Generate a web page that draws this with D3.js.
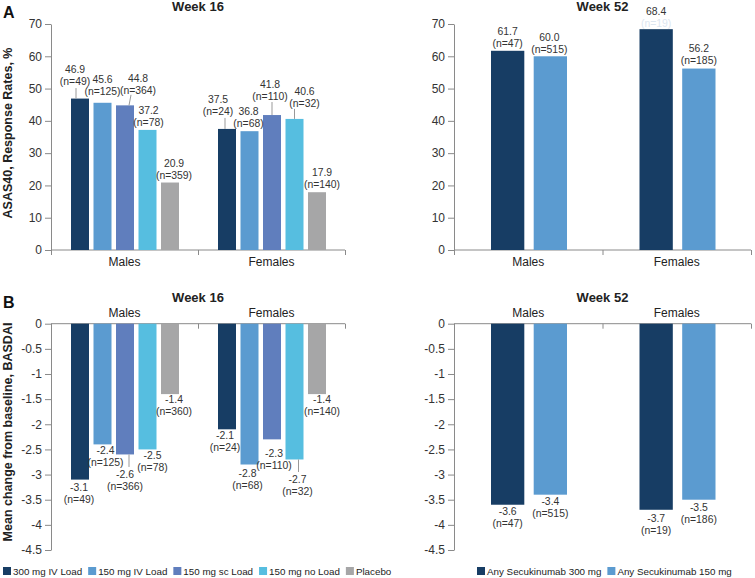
<!DOCTYPE html>
<html><head><meta charset="utf-8">
<script src="https://cdn.jsdelivr.net/npm/d3@7"></script>
<style>body{margin:0;background:#fff} svg{display:block;font-family:"Liberation Sans",Arial,sans-serif}</style>
</head><body><svg id="c" width="755" height="578"></svg>
<script>
// ---------------- DATA ----------------
const groups = ["Males", "Females"];
const series16 = ["300 mg IV Load", "150 mg IV Load", "150 mg sc Load", "150 mg no Load", "Placebo"];
const series52 = ["Any Secukinumab 300 mg", "Any Secukinumab 150 mg"];

const asas16Males = [46.9, 45.6, 44.8, 37.2, 20.9];
const asas16MalesN = [49, 125, 364, 78, 359];
const asas16Females = [37.5, 36.8, 41.8, 40.6, 17.9];
const asas16FemalesN = [24, 68, 110, 32, 140];

const asas52Males = [61.7, 60.0];
const asas52MalesN = [47, 515];
const asas52Females = [68.4, 56.2];
const asas52FemalesN = [19, 185];

const basdai16Males = [-3.1, -2.4, -2.6, -2.5, -1.4];
const basdai16MalesN = [49, 125, 366, 78, 360];
const basdai16Females = [-2.1, -2.8, -2.3, -2.7, -1.4];
const basdai16FemalesN = [24, 68, 110, 32, 140];

const basdai52Males = [-3.6, -3.4];
const basdai52MalesN = [47, 515];
const basdai52Females = [-3.7, -3.5];
const basdai52FemalesN = [19, 186];

const asasTicks = [0, 10, 20, 30, 40, 50, 60, 70];
const basdaiTicks = [0, -0.5, -1, -1.5, -2, -2.5, -3, -3.5, -4, -4.5];

// ---------------- STYLE / LAYOUT ----------------
const colors16 = ["#173d64", "#5b9bd0", "#607ebd", "#56bee0", "#a6a6a7"];
const colors52 = ["#173d64", "#5b9bd0"];
const textCol = "#333";
const axisCol = "#8a8a8a";

// label layout: [dx from bar centre, dy of anchor line relative to bar end]
const layA16 = [[[-5,-13.5],[0,-8],[13,-11],[1,-4],[4,-3.5]], [[-9,-14],[-1,-4],[-2,-15],[10,-12],[5,-4]]];
const leadA16 = [[[0,-4,-4,-10.5],[2,6,4,-10.5]], [[0,-2,-2,-11],[2,0,0,-13],[3,0,0,-10]]]; // [idx, dxTop, dxBar, dyTop]
const layA52 = [[[0,-4],[-1,-3.5]], [[0,-2],[0,-4.5]]];
const layB16 = [[[-1,11],[3,10],[0,23.5],[5,10],[4,9]], [[-2,10],[-2,12.5],[2,17.5],[3,23.5],[5,9]]];
const leadB16 = [[[2,4,4,12.5]], [[3,4,4,12.5]]];
const layB52 = [[[0,10],[0,10]], [[0,12],[0,11]]];

const svg = d3.select("#c");

function panel(o) {
  const g = svg.append("g");
  const xb = d3.scaleBand().domain(groups).range([o.x0, o.x1]);
  const xi = d3.scaleBand().domain(o.series).range(o.inner).paddingInner(o.pad);
  const y = d3.scaleLinear().domain(o.domain).range([o.yBot, o.yTop]);
  const neg = o.domain[1] === 0;
  const zeroY = y(0);

  // y axis
  const ya = g.append("g").attr("transform", `translate(${o.x0},0)`)
    .call(d3.axisLeft(y).tickValues(o.ticks).tickSize(6).tickSizeOuter(0).tickPadding(3).tickFormat(d => String(d)));
  ya.select(".domain").attr("stroke", axisCol);
  ya.selectAll(".tick line").attr("stroke", axisCol);
  ya.selectAll(".tick text").attr("fill", textCol).style("font-size", "12px").style("font-family", '"Liberation Sans",Arial,sans-serif');

  // x axis line + boundary ticks
  g.append("line").attr("x1", o.x0).attr("x2", o.x1).attr("y1", zeroY).attr("y2", zeroY).attr("stroke", axisCol);
  const bounds = groups.map(d => xb(d)).concat([o.x1]);
  g.selectAll(".xt").data(bounds).join("line")
    .attr("x1", d => d + 0.5).attr("x2", d => d + 0.5).attr("y1", zeroY).attr("y2", zeroY + 5).attr("stroke", axisCol);

  // category labels
  g.selectAll(".cat").data(groups).join("text")
    .attr("x", d => xb(d) + xb.bandwidth() / 2).attr("y", o.catY)
    .attr("text-anchor", "middle").attr("fill", "#222").style("font-size", "12px").text(d => d);

  // title
  g.append("text").attr("x", (o.x0 + o.x1) / 2).attr("y", o.titleY).attr("text-anchor", "middle")
    .attr("fill", "#222").style("font-size", "13px").style("font-weight", "bold").text(o.title);

  groups.forEach((grp, gi) => {
    const vals = o.vals[gi], ns = o.ns[gi];
    const gg = g.append("g").attr("transform", `translate(${xb(grp)},0)`);
    gg.selectAll("rect").data(vals).join("rect")
      .attr("x", (d, i) => xi(o.series[i])).attr("width", xi.bandwidth())
      .attr("y", d => Math.min(y(d), zeroY)).attr("height", d => Math.abs(y(d) - zeroY))
      .attr("fill", (d, i) => o.colors[i]);
    vals.forEach((v, i) => {
      const cx = xi(o.series[i]) + xi.bandwidth() / 2;
      const [dx, dy] = o.lay[gi][i];
      const end = y(v);
      let y1, y2;
      if (neg) { y1 = end + dy; y2 = y1 + 12; } else { y2 = end + dy; y1 = y2 - 12; }
      const t = gg.append("g").attr("fill", textCol).style("font-size", "10.4px").attr("text-anchor", "middle");
      t.append("text").attr("x", cx + dx).attr("y", y1).text(v.toFixed(1));
      const nt = t.append("text").attr("x", cx + dx).attr("y", y2).text(`(n=${ns[i]})`);
      if (o.inside && o.inside[0] === gi && o.inside[1] === i) nt.attr("fill", "#dde6f0");
    });
    (o.lead ? o.lead[gi] : []).forEach(([i, dxT, dxB, dyT]) => {
      const cx = xi(o.series[i]) + xi.bandwidth() / 2;
      const end = y(vals[i]);
      gg.append("line").attr("x1", cx + dxT).attr("x2", cx + dxB)
        .attr("y1", end + dyT).attr("y2", end).attr("stroke", "#999").attr("stroke-width", 1);
    });
  });
}

panel({x0: 51, x1: 345, yTop: 24, yBot: 250, domain: [0, 70], ticks: asasTicks, series: series16,
  vals: [asas16Males, asas16Females], ns: [asas16MalesN, asas16FemalesN], colors: colors16,
  inner: [20, 128], pad: 0.2, lay: layA16, lead: leadA16, catY: 266, title: "Week 16", titleY: 11});
panel({x0: 454, x1: 751, yTop: 24, yBot: 250, domain: [0, 70], ticks: asasTicks, series: series52,
  vals: [asas52Males, asas52Females], ns: [asas52MalesN, asas52FemalesN], colors: colors52,
  inner: [37, 113], pad: 0.22, lay: layA52, catY: 266, title: "Week 52", titleY: 11, inside: [1, 0]});
panel({x0: 51, x1: 345, yTop: 323.7, yBot: 550, domain: [-4.5, 0], ticks: basdaiTicks, series: series16,
  vals: [basdai16Males, basdai16Females], ns: [basdai16MalesN, basdai16FemalesN], colors: colors16,
  inner: [20, 128], pad: 0.2, lay: layB16, lead: leadB16, catY: 317, title: "Week 16", titleY: 302});
panel({x0: 454, x1: 751, yTop: 323.7, yBot: 550, domain: [-4.5, 0], ticks: basdaiTicks, series: series52,
  vals: [basdai52Males, basdai52Females], ns: [basdai52MalesN, basdai52FemalesN], colors: colors52,
  inner: [37, 113], pad: 0.22, lay: layB52, catY: 317, title: "Week 52", titleY: 302});

// panel letters
svg.append("text").attr("x", 3).attr("y", 18).style("font-size", "16px").style("font-weight", "bold").attr("fill", "#111").text("A");
svg.append("text").attr("x", 3).attr("y", 308).style("font-size", "16px").style("font-weight", "bold").attr("fill", "#111").text("B");

// y titles
svg.append("text").attr("transform", "translate(12,133) rotate(-90)").attr("text-anchor", "middle")
  .style("font-size", "12.5px").style("font-weight", "bold").attr("fill", "#222").text("ASAS40, Response Rates, %");
svg.append("text").attr("transform", "translate(12,432) rotate(-90)").attr("text-anchor", "middle")
  .style("font-size", "12.5px").style("font-weight", "bold").attr("fill", "#222").text("Mean change from baseline, BASDAI");

// legends
function legend(x, items, cols) {
  let cx = x;
  items.forEach((name, i) => {
    svg.append("rect").attr("x", cx).attr("y", 567).attr("width", 8).attr("height", 8).attr("fill", cols[i]);
    const t = svg.append("text").attr("x", cx + 10).attr("y", 575).style("font-size", "9.8px").attr("fill", "#222").text(name);
    cx += 10 + t.node().getComputedTextLength() + 6;
  });
}
legend(3, series16, colors16);
legend(477, series52, colors52);
</script></body></html>
